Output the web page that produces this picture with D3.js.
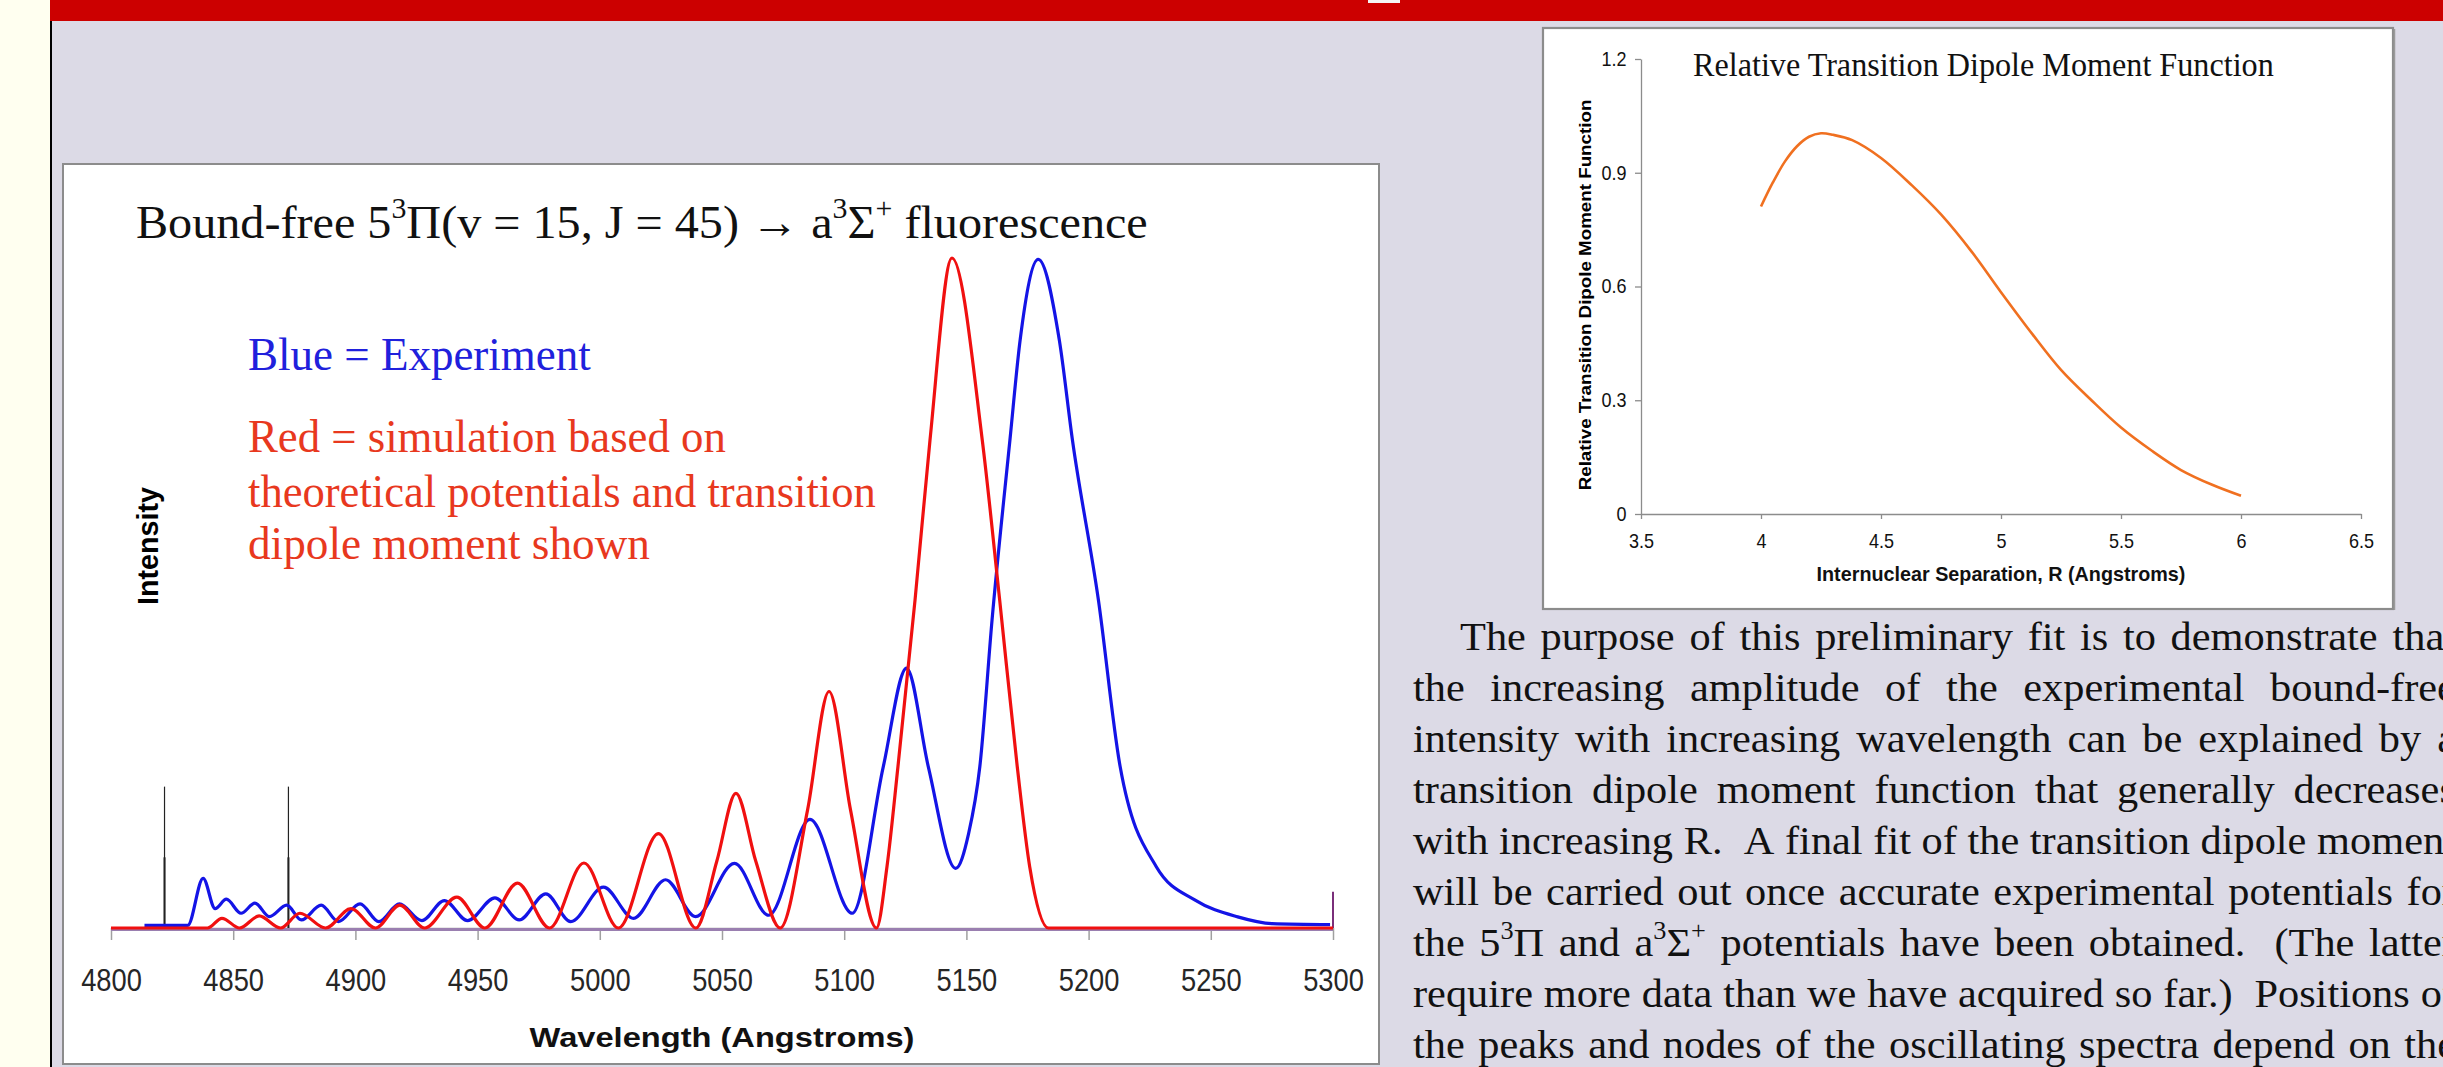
<!DOCTYPE html>
<html>
<head>
<meta charset="utf-8">
<script src="https://cdn.jsdelivr.net/npm/d3@7"></script>
<style>
  html, body { margin: 0; padding: 0; overflow: hidden; background: #DCDAE6; }
  svg { display: block; }
</style>
</head>
<body>
<svg id="poster" width="2443" height="1067"></svg>
<script>
// ---------------------------------------------------------------------------
// Spectrum panel data: wavelength (Angstroms) and relative intensity
// ---------------------------------------------------------------------------
const wavelengthTicks = [4800, 4850, 4900, 4950, 5000, 5050, 5100, 5150, 5200, 5250, 5300];

// Measured bound-free fluorescence (blue)
const experimentWavelength = [
  4813.7, 4831.4, 4837.7, 4842.6, 4847.2, 4853.2, 4858.9, 4864.8, 4871.9, 4877.9,
  4886.0, 4893.0, 4901.9, 4909.6, 4918.0, 4927.2, 4936.4, 4945.9, 4957.1, 4967.0,
  4977.9, 4988.1, 5001.5, 5013.8, 5026.9, 5039.2, 5055.1, 5069.1, 5086.0, 5103.3,
  5116.0, 5125.5, 5134.4, 5145.6, 5150.9, 5155.5, 5160.5, 5167.8, 5172.0, 5179.4,
  5188.0, 5193.4, 5204.0, 5212.9, 5227.7, 5243.6, 5261.0, 5275.0, 5298.8
];
const experimentIntensity = [
  0.004, 0.004, 0.074, 0.029, 0.043, 0.022, 0.037, 0.017, 0.034, 0.012,
  0.034, 0.0095, 0.036, 0.0095, 0.036, 0.011, 0.041, 0.011, 0.045, 0.012,
  0.051, 0.0095, 0.061, 0.0144, 0.072, 0.017, 0.0965, 0.019, 0.162, 0.022,
  0.241, 0.388, 0.241, 0.089, 0.141, 0.241, 0.46, 0.728, 0.878, 0.998,
  0.878, 0.728, 0.49, 0.241, 0.0915, 0.0415, 0.0166, 0.0065, 0.005
];

// Simulated spectrum from theoretical potentials (red)
const simulationWavelength = [
  4800.0, 4839.5, 4845.4, 4852.6, 4860.6, 4869.4, 4877.3, 4887.8, 4898.2, 4908.2,
  4918.2, 4928.3, 4941.5, 4953.0, 4966.3, 4979.4, 4993.5, 5007.6, 5024.0, 5039.3,
  5047.9, 5055.7, 5063.8, 5073.8, 5085.0, 5093.8, 5102.6, 5113.2, 5117.5, 5122.0,
  5129.0, 5135.1, 5144.1, 5156.5, 5163.6, 5170.8, 5175.9, 5183.6, 5300.0
];
const simulationIntensity = [
  0, 0, 0.0145, 0, 0.018, 0, 0.022, 0, 0.029, 0,
  0.034, 0, 0.046, 0, 0.067, 0, 0.097, 0, 0.141, 0,
  0.1, 0.201, 0.1, 0, 0.176, 0.353, 0.176, 0, 0.0915, 0.241,
  0.49, 0.728, 1.0, 0.728, 0.49, 0.241, 0.0915, 0, 0
];

// Calibration lines and end marker
const calibrationLines = [4821.9, 4872.6];
const calibrationHeight = 0.211;
const endMarkerWavelength = [5300, 5300];
const endMarkerIntensity = [0, 0.054];

// ---------------------------------------------------------------------------
// Transition dipole moment panel data
// ---------------------------------------------------------------------------
const separationR = [4.0, 4.05, 4.1, 4.15, 4.2, 4.25, 4.3, 4.38, 4.5, 4.63,
                     4.75, 4.88, 5.0, 5.13, 5.25, 5.38, 5.5, 5.63, 5.75, 5.88, 6.0];
const dipoleMoment = [0.811, 0.875, 0.93, 0.97, 0.995, 1.004, 1.0, 0.986, 0.939, 0.866,
                      0.79, 0.69, 0.585, 0.475, 0.38, 0.298, 0.228, 0.166, 0.116, 0.077, 0.048];
const separationTicks = [3.5, 4, 4.5, 5, 5.5, 6, 6.5];
const dipoleTicks = [0, 0.3, 0.6, 0.9, 1.2];

// ---------------------------------------------------------------------------
// Text
// ---------------------------------------------------------------------------
const spectrumTitle = "Bound-free 5^{3}Π(v = 15, J = 45) → a^{3}Σ^{+} fluorescence";
const legendBlue = "Blue = Experiment";
const legendRed = ["Red = simulation based on",
                   "theoretical potentials and transition",
                   "dipole moment shown"];
const paragraphLines = [
  "The purpose of this preliminary fit is to demonstrate that",
  "the increasing amplitude of the experimental bound-free",
  "intensity with increasing wavelength can be explained by a",
  "transition dipole moment function that generally decreases",
  "with increasing R.  A final fit of the transition dipole moment",
  "will be carried out once accurate experimental potentials for",
  "the 5^{3}Π and a^{3}Σ^{+} potentials have been obtained.  (The latter",
  "require more data than we have acquired so far.)  Positions of",
  "the peaks and nodes of the oscillating spectra depend on the"
];

// ---------------------------------------------------------------------------
const SERIF = "'Liberation Serif', 'Times New Roman', serif";
const SANS = "'Liberation Sans', Arial, sans-serif";

const svg = d3.select("#poster");

// Writes text with ^{...} superscripts as tspans
function richText(sel, str, size) {
  const parts = str.split(/(\^\{[^}]*\})/).filter(s => s.length);
  let raised = false;
  parts.forEach(p => {
    const m = p.match(/^\^\{([^}]*)\}$/);
    if (m) {
      sel.append("tspan").attr("font-size", size * 0.62)
        .attr("dy", raised ? 0 : -size * 0.42).text(m[1]);
      raised = true;
    } else {
      sel.append("tspan").attr("dy", raised ? size * 0.42 : 0).text(p);
      raised = false;
    }
  });
  return sel;
}

// Horizontally stretches a text element so its advance equals `target`
function fitWidth(textSel, anchorX, target) {
  const w = textSel.node().getComputedTextLength();
  const k = target / w;
  textSel.attr("transform", `translate(${anchorX},0) scale(${k},1) translate(${-anchorX},0)`);
}

// Rotated (bottom-to-top) label fitted to a length
function verticalLabel(parent, cx, cy, str, opts) {
  const t = parent.append("text")
    .attr("text-anchor", "middle")
    .attr("font-family", opts.family)
    .attr("font-weight", opts.weight || "normal")
    .attr("font-size", opts.size)
    .attr("fill", opts.fill || "#000")
    .text(str);
  const w = t.node().getComputedTextLength();
  t.attr("transform", `translate(${cx},${cy}) rotate(-90) scale(${opts.length / w},1)`);
  return t;
}

// ---------------------------------------------------------------------------
// Page furniture
// ---------------------------------------------------------------------------
svg.append("rect").attr("x", 0).attr("y", 0).attr("width", 2443).attr("height", 1067).attr("fill", "#DCDAE6");
svg.append("rect").attr("x", 0).attr("y", 0).attr("width", 50).attr("height", 1067).attr("fill", "#FFFFF0");
svg.append("rect").attr("x", 50).attr("y", 0).attr("width", 2).attr("height", 1067).attr("fill", "#000");
svg.append("rect").attr("x", 50).attr("y", 0).attr("width", 2393).attr("height", 21).attr("fill", "#CC0000");
svg.append("rect").attr("x", 1368).attr("y", 0).attr("width", 32).attr("height", 3).attr("fill", "#F4F4F4");

// ---------------------------------------------------------------------------
// Left panel: fluorescence spectrum
// ---------------------------------------------------------------------------
const left = svg.append("g");
left.append("rect").attr("x", 63).attr("y", 164).attr("width", 1316).attr("height", 900)
  .attr("fill", "#FFFFFF").attr("stroke", "#8C8C8C").attr("stroke-width", 2);

const x = d3.scaleLinear().domain([4800, 5300]).range([111, 1333]);
const y = d3.scaleLinear().domain([0, 1]).range([928, 258]);

const xAxis = d3.axisBottom(x).tickValues(wavelengthTicks).tickFormat(d3.format("d"))
  .tickSize(12).tickSizeOuter(0).tickPadding(29);
const gx = left.append("g").attr("transform", `translate(0,${y(0)})`).call(xAxis);
gx.select(".domain").attr("stroke", "#A0A0A0").attr("stroke-width", 1.5);
gx.selectAll(".tick line").attr("stroke", "#A0A0A0").attr("stroke-width", 1.5);
gx.selectAll(".tick text").attr("font-family", SANS).attr("font-size", 31).attr("fill", "#262626")
  .attr("transform", "scale(0.88,1)");

const specLine = d3.line().x(d => x(d[0])).y(d => y(d[1])).curve(d3.curveMonotoneX);
const experiment = experimentWavelength.map((w, i) => [w, experimentIntensity[i]]);
const simulation = simulationWavelength.map((w, i) => [w, simulationIntensity[i]]);
const endMarker = endMarkerWavelength.map((w, i) => [w, endMarkerIntensity[i]]);

// zero line of the reference trace
left.append("line").attr("x1", x(4800)).attr("x2", x(5300)).attr("y1", y(0) + 1.5).attr("y2", y(0) + 1.5)
  .attr("stroke", "#9A7FB0").attr("stroke-width", 3);
left.append("path").datum(endMarker).attr("d", d3.line().x(d => x(d[0])).y(d => y(d[1])))
  .attr("stroke", "#7A2F7A").attr("stroke-width", 2).attr("fill", "none");

calibrationLines.forEach(w => {
  left.append("line").attr("x1", x(w)).attr("x2", x(w)).attr("y1", y(0)).attr("y2", y(calibrationHeight))
    .attr("stroke", "#222").attr("stroke-width", 1.2);
  left.append("line").attr("x1", x(w)).attr("x2", x(w)).attr("y1", y(0)).attr("y2", y(calibrationHeight / 2))
    .attr("stroke", "#222").attr("stroke-width", 2);
});

left.append("path").datum(experiment).attr("d", specLine)
  .attr("fill", "none").attr("stroke", "#1414E6").attr("stroke-width", 3.2).attr("stroke-linejoin", "round");
left.append("path").datum(simulation).attr("d", specLine)
  .attr("fill", "none").attr("stroke", "#F01010").attr("stroke-width", 3.2).attr("stroke-linejoin", "round");

// Titles and annotations
const t1 = left.append("text").attr("x", 136).attr("y", 238)
  .attr("font-family", SERIF).attr("font-size", 47).attr("fill", "#111");
richText(t1, spectrumTitle, 47);
fitWidth(t1, 136, 1012);

const tb = left.append("text").attr("x", 248).attr("y", 370)
  .attr("font-family", SERIF).attr("font-size", 46).attr("fill", "#2020DC").text(legendBlue);
fitWidth(tb, 248, 343);

const redWidths = [478, 628, 402];
const redBase = [452, 507, 559];
legendRed.forEach((s, i) => {
  const t = left.append("text").attr("x", 248).attr("y", redBase[i])
    .attr("font-family", SERIF).attr("font-size", 46).attr("fill", "#E8381E").text(s);
  fitWidth(t, 248, redWidths[i]);
});

verticalLabel(left, 158, 546, "Intensity", { family: SANS, weight: "bold", size: 30, length: 118 });

const xt = left.append("text").attr("x", 722).attr("y", 1047).attr("text-anchor", "middle")
  .attr("font-family", SANS).attr("font-weight", "bold").attr("font-size", 28).attr("fill", "#111")
  .text("Wavelength (Angstroms)");
fitWidth(xt, 722, 385);

// ---------------------------------------------------------------------------
// Right panel: relative transition dipole moment function
// ---------------------------------------------------------------------------
const right = svg.append("g");
right.append("rect").attr("x", 1543).attr("y", 28).attr("width", 850).attr("height", 581)
  .attr("fill", "#FFFFFF").attr("stroke", "#8C8C8C").attr("stroke-width", 2.2);
right.append("line").attr("x1", 2394.5).attr("x2", 2394.5).attr("y1", 29).attr("y2", 610)
  .attr("stroke", "#9A9A9A").attr("stroke-width", 1.5);

const xr = d3.scaleLinear().domain([3.5, 6.5]).range([1641, 2361]);
const yr = d3.scaleLinear().domain([0, 1.2]).range([514, 59]);

const gxr = right.append("g").attr("transform", `translate(0,${yr(0)})`)
  .call(d3.axisBottom(xr).tickValues(separationTicks).tickFormat(d => String(d))
    .tickSize(5).tickSizeOuter(0).tickPadding(15));
const gyr = right.append("g").attr("transform", `translate(${xr(3.5)},0)`)
  .call(d3.axisLeft(yr).tickValues(dipoleTicks).tickFormat(d => d === 0 ? "0" : d3.format(".1f")(d))
    .tickSize(6).tickSizeOuter(0).tickPadding(10));
[gxr, gyr].forEach(g => {
  g.select(".domain").attr("stroke", "#8C8C8C").attr("stroke-width", 1.3);
  g.selectAll(".tick line").attr("stroke", "#8C8C8C").attr("stroke-width", 1.3);
  g.selectAll(".tick text").attr("font-family", SANS).attr("font-size", 20).attr("fill", "#111")
    .attr("transform", "scale(0.9,1)");
});

const tdm = separationR.map((r, i) => [r, dipoleMoment[i]]);
right.append("path").datum(tdm)
  .attr("d", d3.line().x(d => xr(d[0])).y(d => yr(d[1])).curve(d3.curveCatmullRom.alpha(0.5)))
  .attr("fill", "none").attr("stroke", "#F07020").attr("stroke-width", 2.6);

const rt = right.append("text").attr("x", 1693).attr("y", 76)
  .attr("font-family", SERIF).attr("font-size", 33).attr("fill", "#111")
  .text("Relative Transition Dipole Moment Function");
fitWidth(rt, 1693, 581);

const rxt = right.append("text").attr("x", 2001).attr("y", 581).attr("text-anchor", "middle")
  .attr("font-family", SANS).attr("font-weight", "bold").attr("font-size", 20).attr("fill", "#111")
  .text("Internuclear Separation, R (Angstroms)");
fitWidth(rxt, 2001, 369);

verticalLabel(right, 1591, 295, "Relative Transition Dipole Moment Function",
  { family: SANS, weight: "bold", size: 17, length: 391 });

// ---------------------------------------------------------------------------
// Explanatory paragraph (justified, running past the right edge)
// ---------------------------------------------------------------------------
const P_LEFT = 1413, P_RIGHT = 2456, P_INDENT = 47, P_SIZE = 40, P_LEAD = 51, P_BASE = 650;
const para = svg.append("g").attr("font-family", SERIF).attr("font-size", P_SIZE).attr("fill", "#111");

const laid = paragraphLines.map((line, i) => {
  const tokens = line.split(" ");
  const words = [], weights = [];
  tokens.forEach(tk => {
    if (tk === "") { weights[weights.length - 1] += 1; }
    else { words.push(tk); weights.push(1); }
  });
  weights.pop();                       // no gap after the last word
  const g = para.append("g");
  const nodes = words.map(wd => {
    const t = g.append("text").attr("y", P_BASE + i * P_LEAD);
    richText(t, wd, P_SIZE);
    return t;
  });
  const widths = nodes.map(n => n.node().getComputedTextLength());
  return { g, nodes, widths, weights, start: i === 0 ? P_LEFT + P_INDENT : P_LEFT };
});

const space = P_SIZE * 0.25;
const sx = d3.min(laid, L => (P_RIGHT - L.start) / (d3.sum(L.widths) + space * d3.sum(L.weights)));

laid.forEach(L => {
  const avail = (P_RIGHT - L.start) / sx;
  const unit = (avail - d3.sum(L.widths)) / d3.sum(L.weights);
  let cur = 0;
  L.nodes.forEach((n, j) => {
    n.attr("x", cur);
    cur += L.widths[j] + (j < L.weights.length ? L.weights[j] * unit : 0);
  });
  L.g.attr("transform", `translate(${L.start},0) scale(${sx},1)`);
});
</script>
</body>
</html>
